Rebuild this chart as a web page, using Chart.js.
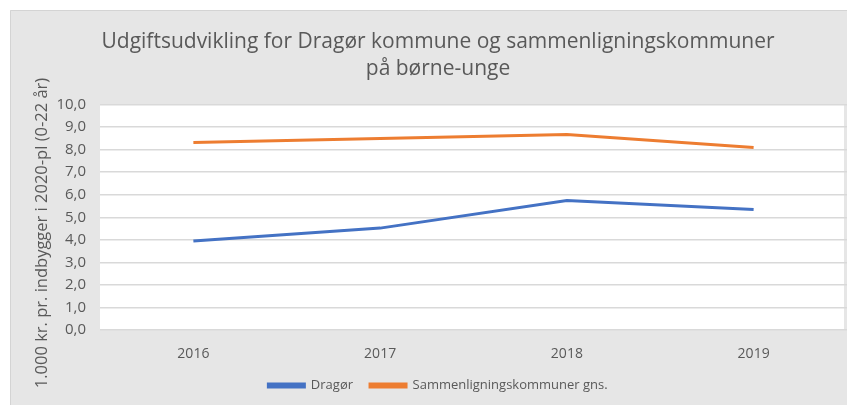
<!DOCTYPE html>
<html>
<head>
<meta charset="utf-8">
<script src="https://cdn.jsdelivr.net/npm/chart.js@4"></script>
<style>
html, body { margin: 0; padding: 0; background: #fff; }
</style>
</head>
<body>
<canvas id="chart" width="847" height="405"></canvas>
<script>
// Data
var years = ['2016', '2017', '2018', '2019'];
var dragoer = [3.95, 4.52, 5.75, 5.35];
var sammenligning = [8.32, 8.5, 8.67, 8.1];
var seriesNames = ['Dragør', 'Sammenligningskommuner gns.'];
var yAxisTitle = '1.000 kr. pr. indbygger i 2020-pl (0-22 år)';
var chartTitle = ['Udgiftsudvikling for Dragør kommune og sammenligningskommuner', 'på børne-unge'];

var textColor = '#595959';
var fontFamily = '"Open Sans", sans-serif';

// gray frame + white plot area, and the rotated y axis title
var framePlugin = {
    id: 'frame',
    beforeDraw: function(chart) {
        var ctx = chart.ctx;
        var area = chart.chartArea;
        ctx.save();
        ctx.fillStyle = '#e6e6e6';
        ctx.fillRect(10, 10, chart.width - 10, chart.height - 10);
        ctx.strokeStyle = '#d4d4d4';
        ctx.lineWidth = 1;
        ctx.beginPath();
        ctx.moveTo(10.5, chart.height);
        ctx.lineTo(10.5, 10.5);
        ctx.lineTo(chart.width, 10.5);
        ctx.stroke();
        ctx.fillStyle = '#ffffff';
        ctx.fillRect(area.left, area.top, area.right - area.left - 3, area.bottom - area.top);
        ctx.restore();
    },
    afterDraw: function(chart) {
        var ctx = chart.ctx;
        ctx.save();
        ctx.translate(42, 233);
        ctx.rotate(-Math.PI / 2);
        ctx.fillStyle = textColor;
        ctx.font = '16.5px ' + fontFamily;
        ctx.textAlign = 'center';
        ctx.textBaseline = 'middle';
        ctx.fillText(yAxisTitle, 0, 0);
        ctx.restore();
    }
};

new Chart(document.getElementById('chart'), {
    type: 'line',
    data: {
        labels: years,
        datasets: [{
            label: seriesNames[0],
            data: dragoer,
            borderColor: '#4472c4',
            backgroundColor: '#4472c4',
            borderWidth: 3,
            pointRadius: 0,
            tension: 0
        }, {
            label: seriesNames[1],
            data: sammenligning,
            borderColor: '#ed7d31',
            backgroundColor: '#ed7d31',
            borderWidth: 3,
            pointRadius: 0,
            tension: 0
        }]
    },
    options: {
        responsive: false,
        animation: false,
        layout: {
            padding: { left: 29, right: 0, top: 10, bottom: 3 }
        },
        plugins: {
            title: {
                display: true,
                text: chartTitle,
                color: textColor,
                font: { family: fontFamily, size: 21, weight: 'normal', lineHeight: 1.3 },
                padding: { top: 18, bottom: 22 }
            },
            legend: {
                position: 'bottom',
                labels: {
                    color: textColor,
                    font: { family: fontFamily, size: 13 },
                    boxWidth: 36,
                    boxHeight: 3,
                    padding: 17
                }
            },
            tooltip: { enabled: false }
        },
        scales: {
            x: {
                offset: true,
                grid: { display: false },
                border: { display: false },
                ticks: {
                    color: textColor,
                    font: { family: fontFamily, size: 14 },
                    padding: 8
                },
                afterFit: function(scale) { scale.height = 32; }
            },
            y: {
                min: 0,
                max: 10,
                grid: { color: '#d9d9d9', lineWidth: 1.5, drawTicks: false },
                border: { display: false },
                ticks: {
                    stepSize: 1,
                    color: textColor,
                    font: { family: fontFamily, size: 15 },
                    padding: 14,
                    callback: function(value) {
                        return value.toFixed(1).replace('.', ',');
                    }
                },
                afterFit: function(scale) { scale.width = 71; }
            }
        }
    },
    plugins: [framePlugin]
});
</script>
</body>
</html>
